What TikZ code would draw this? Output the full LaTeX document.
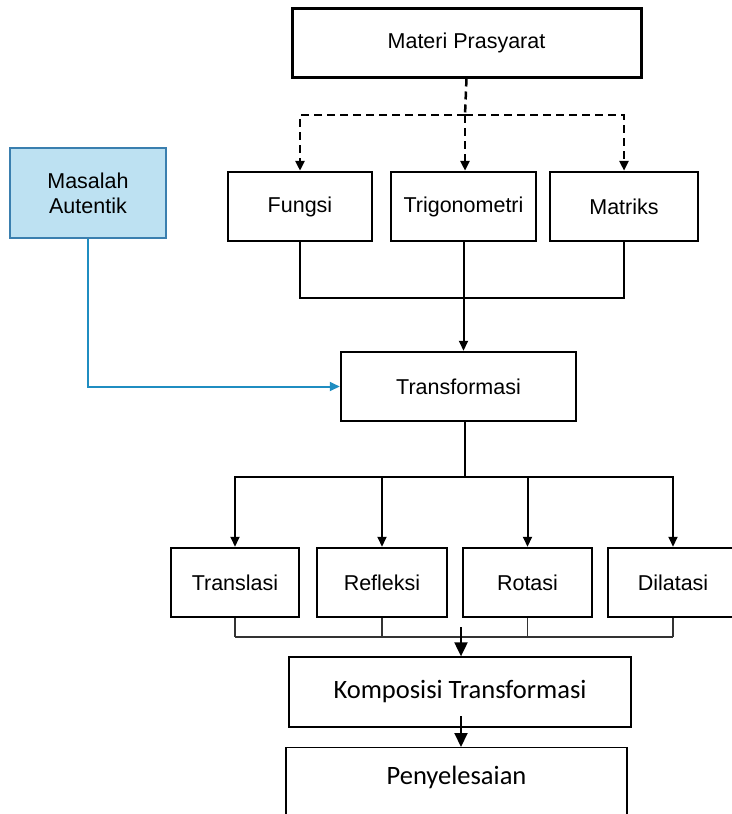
\documentclass[tikz,border=0pt]{standalone}
\usepackage{fontspec}
\usetikzlibrary{arrows.meta}
\newfontfamily\arialfont{Liberation Sans}
\newfontfamily\calibrifont{Carlito}
\definecolor{autentikfill}{HTML}{BDE1F2}
\definecolor{autentikline}{HTML}{3A7FAF}
\definecolor{autentikarrow}{HTML}{1F8DC1}
\begin{document}
\begin{tikzpicture}[x=1pt,y=-1pt,
	topicbox/.style={draw, line width=2.5pt, minimum height=69pt, inner sep=0pt, font=\arialfont\fontsize{21.5}{25}\selectfont},
	thinbox/.style={draw, line width=1.3pt, inner sep=0pt, font=\calibrifont\fontsize{26.5}{30}\selectfont},
	smallhead/.style={-{Triangle[length=10pt,width=9pt]}},
	bighead/.style={-{Triangle[length=14pt,width=13pt]}}]
	\useasboundingbox (0,0) rectangle (731,814);
	\node [topicbox, line width=3pt, minimum width=349pt] (materi) at (466.5,42.5) {Materi Prasyarat};
	\node [topicbox, minimum width=144pt] (fungsi) at (300,206.5) {Fungsi};
	\node [topicbox, minimum width=145pt] (trigono) at (463.5,206.5) {Trigonometri};
	\node [topicbox, minimum width=148pt] (matriks) at (624,206.5) {Matriks};
	\node [topicbox, line width=1.5pt, draw=autentikline, fill=autentikfill, minimum width=156pt, minimum height=90pt, align=center] (masalah) at (88,193) {Masalah\\Autentik};
	\node [topicbox, minimum width=235pt] (transformasi) at (458.5,386.5) {Transformasi};
	\node [topicbox, minimum width=128pt] (translasi) at (235,582.5) {Translasi};
	\node [topicbox, minimum width=130pt] (refleksi) at (382,582.5) {Refleksi};
	\node [topicbox, minimum width=129pt] (rotasi) at (527.5,582.5) {Rotasi};
	\node [topicbox, minimum width=130pt] (dilatasi) at (673,582.5) {Dilatasi};
	\node [thinbox, minimum width=342pt, minimum height=70pt] (komposisi) at (460,692) {Komposisi Transformasi};
	\node [thinbox, minimum width=341pt, minimum height=110pt, anchor=north] (penyelesaian) at (456.5,747) {};
	\node [font=\calibrifont\fontsize{26.5}{30}\selectfont] (penyelesaiantext) at ([yshift=-30pt]penyelesaian.north) {Penyelesaian};

	\coordinate (dashhub) at (465,115);
	\coordinate (hub) at (465,477);
	\coordinate (bar) at (0,637);
	\coordinate (kstart) at (461,627);
	\coordinate (pstart) at (461,716);

	\draw[line width=2.5pt, dashed, dash pattern=on 8pt off 5pt] (materi.south) -- (dashhub);
	\draw[line width=2.5pt, dash pattern=on 8pt off 5pt, smallhead] (dashhub) -| (fungsi.north);
	\draw[line width=2.5pt, dash pattern=on 8pt off 5pt, smallhead] (dashhub) -- (dashhub |- trigono.north);
	\draw[line width=2.5pt, dash pattern=on 8pt off 5pt, smallhead] (dashhub) -| (matriks.north);

	\draw[line width=2pt] (fungsi.south) -- (fungsi.south |- 0,298) -| (matriks.south);
	\draw[line width=2pt, smallhead] (trigono.south) -- (trigono.south |- transformasi.north);
	\draw[line width=2pt, autentikarrow, smallhead] (masalah.south) |- (transformasi.west);

	\draw[line width=2pt] (transformasi.south -| hub) -- (hub);
	\foreach \n in {translasi,refleksi,rotasi,dilatasi}
		\draw[line width=2pt, smallhead] (hub) -| (\n.north);

	\foreach \n in {translasi,refleksi,rotasi,dilatasi}
		\draw[line width=1.6pt, black!80] (\n.south) -- (\n.south |- bar);
	\draw[line width=1.6pt, black!80] (translasi.south |- bar) -- (dilatasi.south |- bar);

	\draw[line width=2pt, bighead] (kstart) -- (kstart |- komposisi.north);
	\draw[line width=2pt, bighead] (pstart) -- (pstart |- penyelesaian.north);
\end{tikzpicture}
\end{document}
